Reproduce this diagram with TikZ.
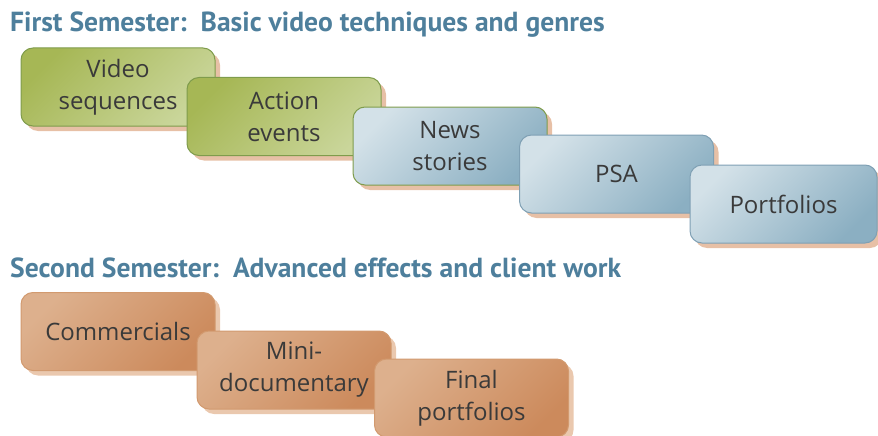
\documentclass[tikz,border=0pt]{standalone}
\usepackage{fontspec}
\setmainfont{Open Sans}
\newfontfamily\headfont{PT Sans}
\usetikzlibrary{shadows}

\definecolor{headblue}{HTML}{4E7F9C}
\definecolor{textgray}{HTML}{3A3A3A}
\definecolor{greenA}{HTML}{A6B755}
\definecolor{greenB}{HTML}{CAD69B}
\definecolor{greenline}{HTML}{7F9C4C}
\definecolor{blueA}{HTML}{D3E1E8}
\definecolor{blueB}{HTML}{8BAFC2}
\definecolor{blueline}{HTML}{7FA0B4}
\definecolor{orangeA}{HTML}{DDB08D}
\definecolor{orangeB}{HTML}{CC8A5C}
\definecolor{orangeline}{HTML}{D29A6F}
\definecolor{peach}{HTML}{E7C0A6}
\definecolor{lightpeach}{HTML}{EAC8AE}

\begin{document}
\begin{tikzpicture}[x=1pt, y=-1pt,
    stage/.style={rounded corners=12pt, draw, line width=1pt,
        minimum width=194pt, minimum height=78pt, align=center,
        font=\fontsize{24}{32}\selectfont, text=textgray,
        drop shadow={shadow xshift=5pt, shadow yshift=-5pt, fill=#1, opacity=1}},
    greenstage/.style={stage=peach, draw=greenline, top color=greenA, bottom color=greenB, shading angle=45},
    bluestage/.style={stage=peach, draw=blueline, top color=blueA, bottom color=blueB, shading angle=45},
    orangestage/.style={stage=lightpeach, draw=orangeline, top color=orangeA, bottom color=orangeB, shading angle=45},
    heading/.style={anchor=base west, inner sep=0pt, text=headblue,
        font=\headfont\bfseries\fontsize{27.6}{30}\selectfont}]
    \useasboundingbox (0,0) rectangle (878,436);

    % first semester
    \node[heading] (sem1) at (10,32) {First Semester:\ \ Basic video techniques and genres};
    \node[greenstage] (video) at (118,87) {Video\\sequences};
    \node[greenstage] (action) at (284,116.5) {Action\\events};
    \node[bluestage, draw=greenline] (news) at (450,146) {News\\stories};
    \node[bluestage] (psa) at (616.5,174) {PSA};
    \node[bluestage, minimum width=187pt] (portf) at (783.5,204) {Portfolios};

    % second semester
    \node[heading] (sem2) at (10,277) {Second Semester:\ \ Advanced effects and client work};
    \node[orangestage] (comm) at (118,331.5) {Commercials};
    \node[orangestage] (mini) at (294,370) {Mini-\\documentary};
    \node[orangestage] (final) at (471.5,398) {Final\\portfolios};
\end{tikzpicture}
\end{document}
